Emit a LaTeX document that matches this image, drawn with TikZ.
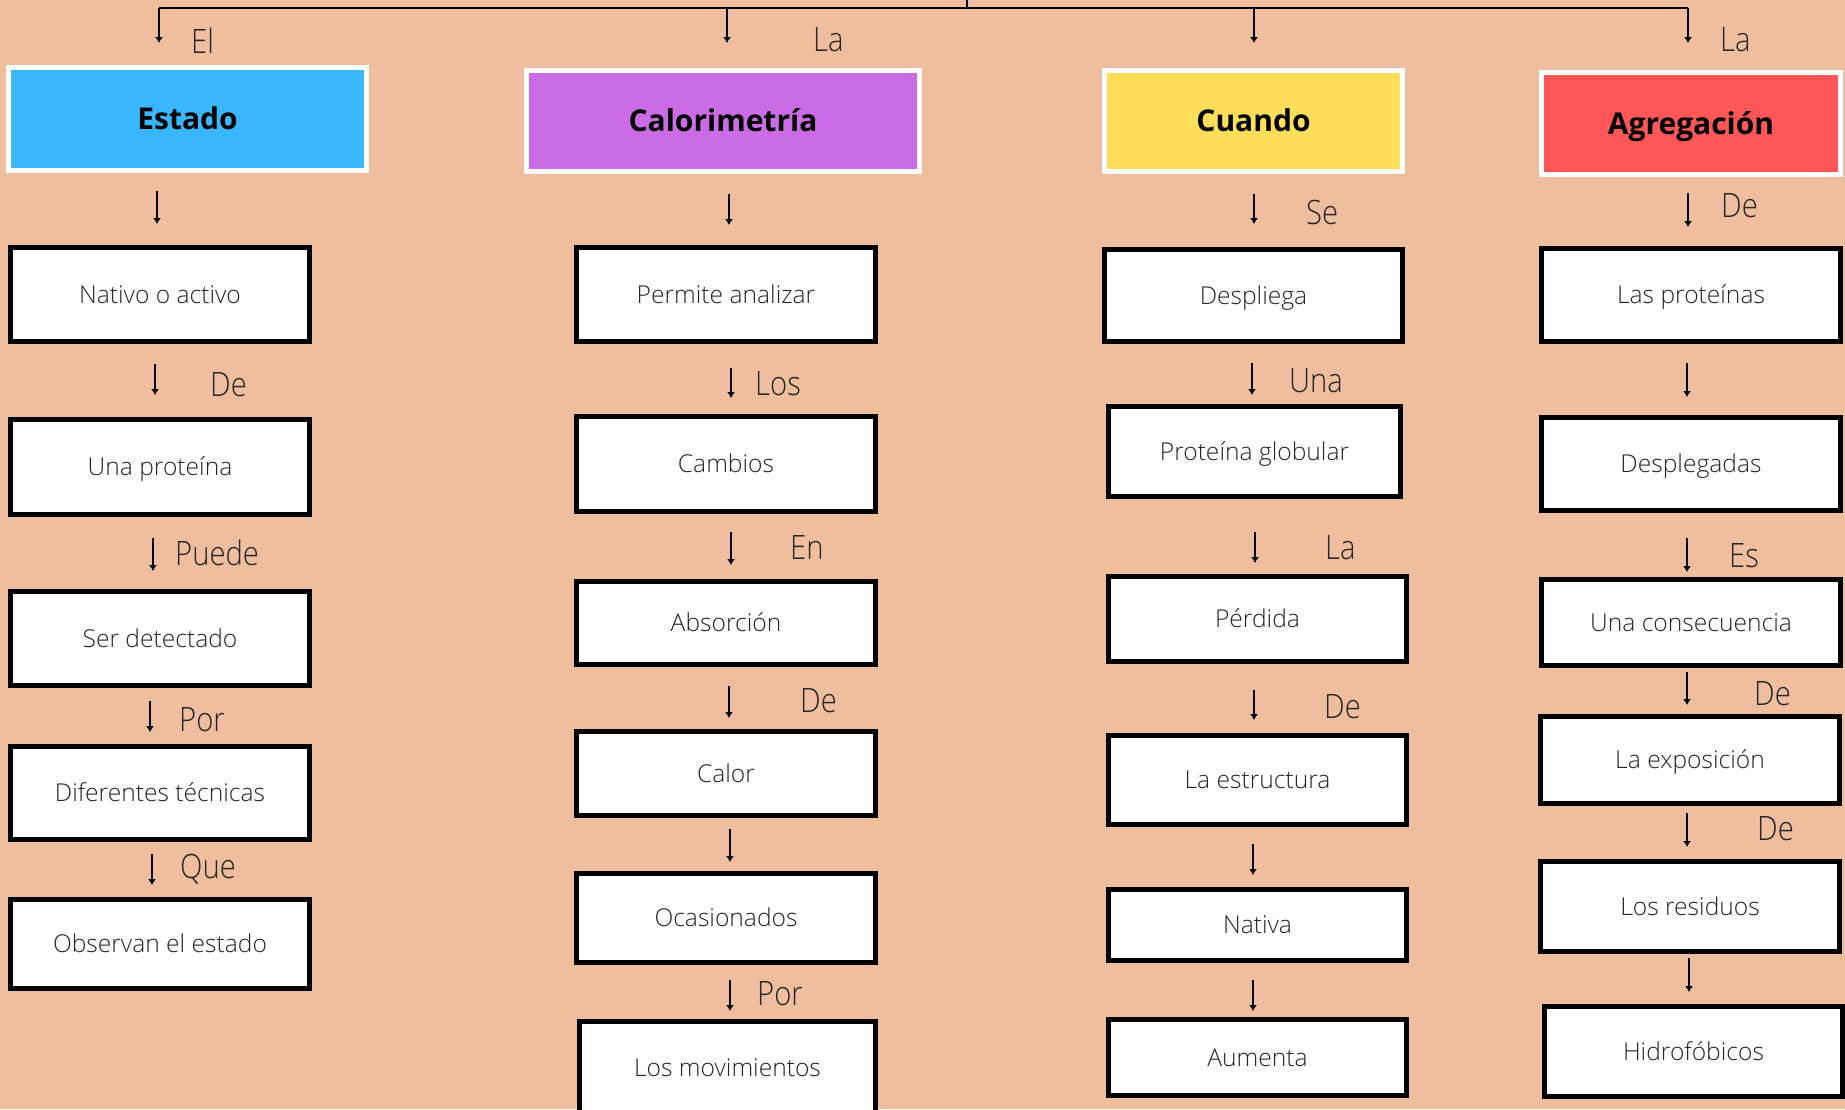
\documentclass[tikz,border=0pt]{standalone}
\usepackage{fontspec}
\setmainfont{Open Sans}
% thin face for the box texts and the linking words, heavy face for the headers
\IfFontExistsTF{Open Sans Light}{%
  \newfontfamily\thinfont{Open Sans Light}%
  \newfontfamily\lblfont[FakeStretch=0.87]{Open Sans Light}%
}{%
  \newfontfamily\thinfont{Open Sans}%
  \newfontfamily\lblfont[FakeStretch=0.87]{Open Sans}%
}
\IfFontExistsTF{Open Sans ExtraBold}{%
  \newfontfamily\heavyfont{Open Sans ExtraBold}%
}{%
  \newfontfamily\heavyfont[UprightFont=*,BoldFont=*]{Open Sans Bold}%
}
\usetikzlibrary{arrows.meta}
\definecolor{bg}{HTML}{EFBE9F}
\definecolor{txt}{HTML}{262626}
\definecolor{cblue}{HTML}{38B6FF}
\definecolor{cpurple}{HTML}{CB6CE6}
\definecolor{cyellow}{HTML}{FFDE59}
\definecolor{cred}{HTML}{FF5757}
\begin{document}
\begin{tikzpicture}[x=1pt,y=-1pt,
  card/.style={draw=black, line width=5pt, fill=white, inner sep=0pt, align=center,
    text height=17.5pt, text depth=0pt,
    text=txt, font=\thinfont\fontsize{24.6}{28}\selectfont},
  head/.style={draw=white, line width=5pt, inner sep=0pt, align=center,
    text height=21.5pt, text depth=0pt,
    font=\heavyfont\fontsize{30}{34}\selectfont},
  lbl/.style={anchor=base west, inner sep=0pt, text=txt, font=\lblfont\fontsize{33.6}{38}\selectfont},
  arr/.style={line width=2pt, -{Latex[length=6pt,width=8pt]}},
  bar/.style={line width=2.2pt}]

% canvas
\fill[bg] (0,0) rectangle (1845,1109);
\useasboundingbox (0,0) rectangle (1845,1109);
\clip (0,0) rectangle (1845,1109);

% header boxes
\node[head, fill=cblue,   minimum width=358pt, minimum height=103pt] (estado) at (187.5,119) {Estado};
\node[head, fill=cpurple, minimum width=393pt, minimum height=101pt] (calor)  at (723,121)   {Calorimetría};
\node[head, fill=cyellow, minimum width=298pt, minimum height=101pt] (cuando) at (1253.5,121) {Cuando};
\node[head, fill=cred,    minimum width=299pt, minimum height=102pt] (agreg)  at (1691,123.5) {Agregación};

% distribution bar at the top
\coordinate (hub) at (967,8);
\coordinate (b1) at (159,8);
\coordinate (b2) at (727,8);
\coordinate (b3) at (1254,8);
\coordinate (b4) at (1688,8);
\draw[bar] (b1) -- (b4);
\draw[bar] (hub) -- (967,-2);
\draw[arr] (b1) -- (159,43);
\draw[arr] (b2) -- (727,43);
\draw[arr] (b3) -- (1254,43);
\draw[arr] (b4) -- (1688,43);
\node[lbl] (tEl)  at (191,53) {El};
\node[lbl] (tLa1) at (813,51) {La};
\node[lbl] (tLa2) at (1720,51) {La};

% column 1
\node[card, minimum width=299pt, minimum height=94pt] (c1a) at (160,294.5) {Nativo o activo};
\node[card, minimum width=299pt, minimum height=95pt] (c1b) at (160,467)   {Una proteína};
\node[card, minimum width=299pt, minimum height=94pt] (c1c) at (160,638.5) {Ser detectado};
\node[card, minimum width=299pt, minimum height=93pt] (c1d) at (160,793)   {Diferentes técnicas};
\node[card, minimum width=299pt, minimum height=89pt] (c1e) at (160,944)   {Observan el estado};
\draw[arr] (157,191) -- (157,224);
\draw[arr] (155,364) -- (155,395);
\draw[arr] (153,538) -- (153,571);
\draw[arr] (150,701) -- (150,732);
\draw[arr] (152,854) -- (152,885);
\node[lbl] (l1a) at (210,396) {De};
\node[lbl] (l1b) at (175,565) {Puede};
\node[lbl] (l1c) at (179,731) {Por};
\node[lbl] (l1d) at (180,878) {Que};

% column 2
\node[card, minimum width=299pt, minimum height=94pt] (c2a) at (726,294.5) {Permite analizar};
\node[card, minimum width=299pt, minimum height=95pt] (c2b) at (726,464)   {Cambios};
\node[card, minimum width=299pt, minimum height=83pt] (c2c) at (726,623)   {Absorción};
\node[card, minimum width=299pt, minimum height=84pt] (c2d) at (726,773.5) {Calor};
\node[card, minimum width=299pt, minimum height=89pt] (c2e) at (726,918)   {Ocasionados};
\node[card, minimum width=296pt, minimum height=93pt] (c2f) at (727.5,1068) {Los movimientos};
\draw[arr] (729,194) -- (729,225);
\draw[arr] (731,368) -- (731,398);
\draw[arr] (731,532) -- (731,565);
\draw[arr] (729,686) -- (729,718);
\draw[arr] (730,829) -- (730,862);
\draw[arr] (730,980) -- (730,1011);
\node[lbl] (l2a) at (755,395) {Los};
\node[lbl] (l2b) at (790,559) {En};
\node[lbl] (l2c) at (800,712) {De};
\node[lbl] (l2d) at (757,1005) {Por};

% column 3
\node[card, minimum width=298pt, minimum height=92pt] (c3a) at (1253.5,295.5) {Despliega};
\node[card, minimum width=292pt, minimum height=90pt] (c3b) at (1254.5,451.5) {Proteína globular};
\node[card, minimum width=298pt, minimum height=85pt] (c3c) at (1257.5,619)   {Pérdida};
\node[card, minimum width=298pt, minimum height=89pt] (c3d) at (1257.5,780)   {La estructura};
\node[card, minimum width=298pt, minimum height=71pt] (c3e) at (1257.5,925)   {Nativa};
\node[card, minimum width=298pt, minimum height=76pt] (c3f) at (1257.5,1057.5) {Aumenta};
\draw[arr] (1254,194) -- (1254,224);
\draw[arr] (1252,363) -- (1252,395);
\draw[arr] (1255,532) -- (1255,563);
\draw[arr] (1254,690) -- (1254,720);
\draw[arr] (1253,844) -- (1253,875);
\draw[arr] (1253,980) -- (1253,1011);
\node[lbl] (l3a) at (1306,224) {Se};
\node[lbl] (l3b) at (1289,392) {Una};
\node[lbl] (l3c) at (1325,559) {La};
\node[lbl] (l3d) at (1324,718) {De};

% column 4
\node[card, minimum width=299pt, minimum height=93pt] (c4a) at (1691,295)    {Las proteínas};
\node[card, minimum width=299pt, minimum height=93pt] (c4b) at (1691,464)    {Desplegadas};
\node[card, minimum width=299pt, minimum height=86pt] (c4c) at (1691,622.5)  {Una consecuencia};
\node[card, minimum width=299pt, minimum height=87pt] (c4d) at (1690,760)    {La exposición};
\node[card, minimum width=299pt, minimum height=90pt] (c4e) at (1690,906.5)  {Los residuos};
\node[card, minimum width=298pt, minimum height=90pt] (c4f) at (1693.5,1051.5) {Hidrofóbicos};
\draw[arr] (1688,193) -- (1688,227);
\draw[arr] (1687,363) -- (1687,397);
\draw[arr] (1687,538) -- (1687,572);
\draw[arr] (1687,672) -- (1687,705);
\draw[arr] (1687,813) -- (1687,847);
\draw[arr] (1689,958) -- (1689,992);
\node[lbl] (l4a) at (1721,217) {De};
\node[lbl] (l4b) at (1729,567) {Es};
\node[lbl] (l4c) at (1754,705) {De};
\node[lbl] (l4d) at (1757,840) {De};
\end{tikzpicture}
\end{document}
